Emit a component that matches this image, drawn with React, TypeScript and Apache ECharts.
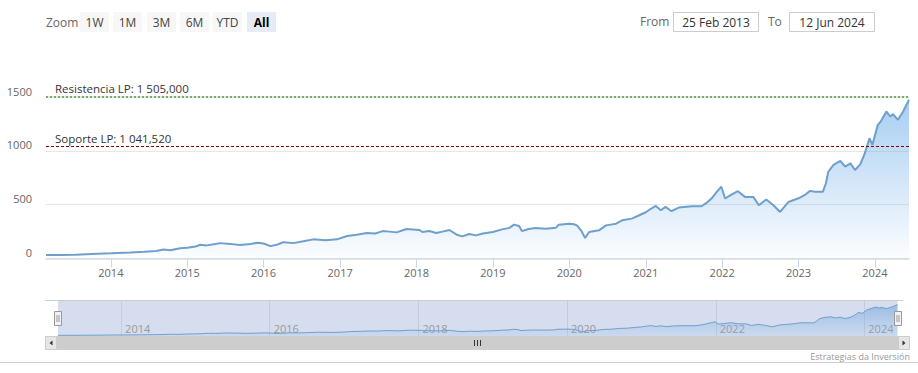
import React, { useEffect, useRef } from 'react';
import * as echarts from 'echarts';

const dates = [
  '2013-02-25','2013-05-01','2013-07-15','2013-10-01','2014-01-01','2014-04-05','2014-06-10','2014-08-05','2014-09-10','2014-10-12',
  '2014-11-28','2015-01-01','2015-02-10','2015-03-05','2015-04-05','2015-05-15','2015-06-07','2015-07-25','2015-09-10','2015-10-30',
  '2015-12-05','2016-01-01','2016-02-03','2016-03-08','2016-04-05','2016-05-22','2016-07-09','2016-08-26','2016-10-23','2016-12-17',
  '2017-02-03','2017-03-21','2017-05-08','2017-06-17','2017-07-24','2017-08-25','2017-09-28','2017-11-14','2017-12-14','2018-01-15',
  '2018-01-29','2018-03-03','2018-04-05','2018-05-05','2018-06-07','2018-07-16','2018-08-08','2018-09-10','2018-10-12','2018-11-14',
  '2019-01-01','2019-02-14','2019-03-21','2019-04-12','2019-05-06','2019-05-20','2019-06-21','2019-07-24','2019-09-10','2019-10-30',
  '2019-11-12','2020-01-01','2020-01-23','2020-02-07','2020-02-27','2020-03-17','2020-04-05','2020-05-22','2020-06-25','2020-08-12',
  '2020-09-10','2020-10-26','2020-11-28','2021-01-01','2021-01-27','2021-02-18','2021-03-14','2021-04-05','2021-05-04','2021-06-07',
  '2021-08-08','2021-09-24','2021-10-20','2021-11-11','2021-12-06','2021-12-28','2022-01-15','2022-02-10','2022-03-17','2022-04-20',
  '2022-05-30','2022-06-25','2022-07-31','2022-09-03','2022-10-05','2022-11-14','2022-12-06','2023-01-01','2023-02-03','2023-02-25',
  '2023-03-21','2023-04-27','2023-05-12','2023-05-23','2023-06-17','2023-07-20','2023-08-12','2023-09-06','2023-09-28','2023-10-23',
  '2023-11-14','2023-12-06','2023-12-20','2024-01-15','2024-01-29','2024-02-25','2024-03-14','2024-03-28','2024-04-20','2024-05-15',
  '2024-06-12'
];
const values = [
  32, 33, 36, 42, 48, 55, 62, 70, 84, 76,
  95, 100, 112, 128, 122, 135, 143, 136, 125, 135,
  147, 140, 115, 130, 152, 143, 160, 178, 170, 178,
  209, 220, 237, 232, 255, 250, 243, 274, 270, 265,
  246, 255, 237, 250, 265, 218, 206, 228, 215, 232,
  246, 271, 285, 315, 302, 255, 275, 283, 277, 287,
  315, 324, 318, 308, 260, 190, 246, 262, 308, 324,
  355, 371, 400, 430, 465, 489, 449, 480, 440, 474,
  486, 486, 520, 558, 620, 667, 558, 589, 626, 573,
  573, 496, 549, 496, 433, 526, 542, 560, 595, 629,
  620, 620, 700, 807, 870, 907, 854, 885, 823, 876,
  979, 1119, 1057, 1243, 1274, 1368, 1321, 1343, 1290, 1368,
  1477
];
const mainYearTicks = [2014, 2015, 2016, 2017, 2018, 2019, 2020, 2021, 2022, 2023, 2024];
const navYearTicks = [2014, 2016, 2018, 2020, 2022, 2024];
const resistance = 1505;
const support = 1041.52;
const resistanceLabel = 'Resistencia LP: 1 505,000';
const supportLabel = 'Soporte LP: 1 041,520';
const zoomButtons = ['1W', '1M', '3M', '6M', 'YTD', 'All'];
const selectedButton = 'All';
const fromDate = '25 Feb 2013';
const toDate = '12 Jun 2024';
const credits = 'Estrategias da Inversión';

const ts = (s: string) => {
  const [y, m, d] = s.split('-').map(Number);
  return Date.UTC(y, m - 1, d);
};
const yearTs = (y: number) => Date.UTC(y, 0, 1);
const yearOf = (v: number) => String(new Date(v + 43200000).getUTCFullYear());

const FONT = 'Open Sans';

export default function App() {
  const ref = useRef<HTMLDivElement>(null);
  useEffect(() => {
    if (!ref.current) return;
    const chart = echarts.init(ref.current, undefined, { renderer: 'svg' });
    const data = dates.map((d, i) => [ts(d), values[i]]);
    const xMin = ts(dates[0]);
    const xMax = ts(dates[dates.length - 1]);

    const btnX = [80, 113, 147, 180, 213, 247];
    const graphic: any[] = [
      { type: 'text', x: 46, y: 22, style: { text: 'Zoom', fill: '#666', font: `12px "${FONT}"`, verticalAlign: 'middle' } },
      ...zoomButtons.flatMap((b, i) => [
        { type: 'rect', shape: { x: btnX[i], y: 12, width: 29, height: 20 }, style: { fill: b === selectedButton ? '#e6ebf5' : '#f7f7f7' } },
        { type: 'text', x: btnX[i] + 14.5, y: 22, style: { text: b, fill: b === selectedButton ? '#000' : '#444', font: `${b === selectedButton ? 'bold ' : ''}12px "${FONT}"`, align: 'center', verticalAlign: 'middle' } },
      ]),
      { type: 'text', x: 640, y: 21, style: { text: 'From', fill: '#666', font: `12px "${FONT}"`, verticalAlign: 'middle' } },
      { type: 'rect', shape: { x: 673.5, y: 12.5, width: 85, height: 19 }, style: { fill: '#fff', stroke: '#cccccc', lineWidth: 1 } },
      { type: 'text', x: 716, y: 22, style: { text: fromDate, fill: '#333', font: `12px "${FONT}"`, align: 'center', verticalAlign: 'middle' } },
      { type: 'text', x: 768, y: 21, style: { text: 'To', fill: '#666', font: `12px "${FONT}"`, verticalAlign: 'middle' } },
      { type: 'rect', shape: { x: 789.5, y: 12.5, width: 85, height: 19 }, style: { fill: '#fff', stroke: '#cccccc', lineWidth: 1 } },
      { type: 'text', x: 832, y: 22, style: { text: toDate, fill: '#333', font: `12px "${FONT}"`, align: 'center', verticalAlign: 'middle' } },
      { type: 'line', shape: { x1: 45, y1: 300.5, x2: 903, y2: 300.5 }, style: { stroke: '#cccccc', lineWidth: 1 }, z: 10 },
      { type: 'rect', shape: { x: 45, y: 336, width: 865, height: 14 }, style: { fill: '#f2f2f2' }, z: 10 },
      { type: 'rect', shape: { x: 57, y: 336, width: 841, height: 14 }, style: { fill: '#cdcdcd' }, z: 10 },
      { type: 'rect', shape: { x: 45.5, y: 336.5, width: 11, height: 13 }, style: { fill: '#e6e6e6', stroke: '#cccccc', lineWidth: 1 }, z: 10 },
      { type: 'polygon', shape: { points: [[49.5, 343], [52.5, 340.5], [52.5, 345.5]] }, style: { fill: '#333' }, z: 11 },
      { type: 'rect', shape: { x: 898.5, y: 336.5, width: 11, height: 13 }, style: { fill: '#e6e6e6', stroke: '#cccccc', lineWidth: 1 }, z: 10 },
      { type: 'polygon', shape: { points: [[905.5, 343], [902.5, 340.5], [902.5, 345.5]] }, style: { fill: '#333' }, z: 11 },
      { type: 'line', shape: { x1: 474.5, y1: 340, x2: 474.5, y2: 346 }, style: { stroke: '#333', lineWidth: 1 }, z: 11 },
      { type: 'line', shape: { x1: 477.5, y1: 340, x2: 477.5, y2: 346 }, style: { stroke: '#333', lineWidth: 1 }, z: 11 },
      { type: 'line', shape: { x1: 480.5, y1: 340, x2: 480.5, y2: 346 }, style: { stroke: '#333', lineWidth: 1 }, z: 11 },
      ...[54.5, 894.5].flatMap((hx) => [
        { type: 'rect', shape: { x: hx, y: 311.5, width: 7, height: 14 }, style: { fill: '#f2f2f2', stroke: '#999', lineWidth: 1 }, z: 12 },
        { type: 'line', shape: { x1: hx + 2.5, y1: 315, x2: hx + 2.5, y2: 322 }, style: { stroke: '#999', lineWidth: 1 }, z: 13 },
        { type: 'line', shape: { x1: hx + 4.5, y1: 315, x2: hx + 4.5, y2: 322 }, style: { stroke: '#999', lineWidth: 1 }, z: 13 },
      ]),
      { type: 'line', shape: { x1: 0, y1: 362.5, x2: 918, y2: 362.5 }, style: { stroke: '#d0d0d0', lineWidth: 1 } },
      { type: 'text', x: 910, y: 356.5, style: { text: credits, fill: '#999', font: `9px "${FONT}"`, align: 'right', verticalAlign: 'middle' } },
    ];

    const option: any = {
      animation: false,
      textStyle: { fontFamily: FONT },
      grid: [
        { left: 46, right: 9, top: 96.7, bottom: 114.5, containLabel: false },
        { left: 58, right: 20.5, top: 301, bottom: 37, show: true, backgroundColor: '#d5ddee', borderWidth: 0 },
      ],
      xAxis: [
        {
          type: 'value', gridIndex: 0, min: xMin, max: xMax,
          axisLine: { lineStyle: { color: '#d5dbe5', width: 1.5 } },
          axisTick: { show: true, length: 9, lineStyle: { color: '#ccd6eb' }, customValues: mainYearTicks.map(yearTs) },
          axisLabel: { customValues: mainYearTicks.map(yearTs), formatter: yearOf, color: '#666', fontSize: 11, margin: 8, fontFamily: FONT },
          splitLine: { show: false },
        },
        {
          type: 'value', gridIndex: 1, min: xMin, max: xMax,
          axisLine: { show: false },
          axisTick: { show: false, customValues: navYearTicks.map(yearTs) },
          axisLabel: { customValues: navYearTicks.map(yearTs), formatter: yearOf, color: '#999', fontSize: 11, inside: true, align: 'left', margin: 2, padding: [0, 0, 0, 4], fontFamily: FONT },
          splitLine: { show: true, lineStyle: { color: '#c3cbdc', width: 1 } },
        },
      ],
      yAxis: [
        {
          type: 'value', gridIndex: 0, min: 0, max: resistance, interval: 500,
          axisLine: { show: false }, axisTick: { show: false },
          axisLabel: { formatter: (v: number) => String(v), color: '#666', fontSize: 11, margin: 14, verticalAlign: 'bottom', lineHeight: 12, showMaxLabel: false, fontFamily: FONT },
          splitLine: { lineStyle: { color: '#e6e6e6' } },
        },
        {
          type: 'value', gridIndex: 1, min: 0, max: 1650,
          show: false, splitLine: { show: false },
        },
      ],
      series: [
        {
          type: 'line', xAxisIndex: 0, yAxisIndex: 0, data, showSymbol: false, silent: true,
          lineStyle: { color: '#6f9fcc', width: 2 }, itemStyle: { color: '#6f9fcc' },
          areaStyle: {
            color: new echarts.graphic.LinearGradient(0, 0, 0, 1, [
              { offset: 0, color: 'rgba(124,181,236,0.95)' },
              { offset: 1, color: 'rgba(124,181,236,0.04)' },
            ]),
          },
          markLine: {
            silent: true, symbol: 'none',
            label: { position: 'insideStartTop', color: '#333', fontSize: 11.5, distance: [9, 2], fontFamily: FONT },
            data: [
              { yAxis: resistance, lineStyle: { color: '#4f9a3a', type: [2, 2], width: 1.5 }, label: { formatter: resistanceLabel } },
              { yAxis: support, lineStyle: { color: '#8b0000', type: [3, 2], width: 1 }, label: { formatter: supportLabel } },
            ],
          },
        },
        {
          type: 'line', xAxisIndex: 1, yAxisIndex: 1, data, showSymbol: false, silent: true,
          lineStyle: { color: '#6f9fcc', width: 1 }, itemStyle: { color: '#6f9fcc' },
          areaStyle: {
            color: new echarts.graphic.LinearGradient(0, 0, 0, 1, [
              { offset: 0, color: 'rgba(110,160,220,0.8)' },
              { offset: 1, color: 'rgba(124,181,236,0.15)' },
            ]),
          },
        },
      ],
      graphic,
    };
    chart.setOption(option);
    return () => chart.dispose();
  }, []);
  return <div ref={ref} style={{ position: 'absolute', left: 0, top: 0, width: 918, height: 373 }} />;
}
